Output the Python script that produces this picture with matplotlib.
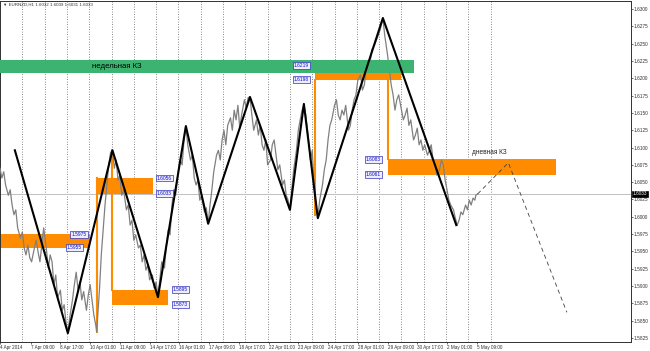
import matplotlib
matplotlib.use('Agg')
import matplotlib.pyplot as plt

# ---------------- data ----------------
title = "EURNZD,H1 1.6032 1.6039 1.6031 1.6033"
last_price = 1.6033

price_bars = [0, 2, 4, 6, 9, 11, 13, 15, 17, 19, 22, 24, 26, 28, 30, 32, 34, 37, 39, 41,
              43, 45, 47, 50, 52, 54, 56, 58, 60, 62, 65, 67, 69, 71, 73,
              75, 78, 80, 82, 84, 86, 88, 90, 93, 95, 97, 99, 101, 103, 104,
              107, 109, 111, 113, 115, 117, 119, 121,
              123, 125, 127, 129, 131, 133, 136, 138, 140, 142, 144, 146, 149, 151, 153, 155,
              157, 159, 161, 164, 166, 168, 170,
              172, 174, 177, 179, 181, 183, 185, 187, 189, 192, 194, 196, 198, 200,
              202, 205, 207, 209, 211, 213, 215, 217, 220, 222, 224,
              226, 228, 230, 233, 235, 237, 239, 241, 243, 245, 248, 250, 252, 254, 256, 258,
              260, 263, 265, 267, 269,
              271, 273, 276, 278, 280, 282, 284, 286, 288, 291, 293, 295, 297, 299, 301, 304,
              306, 308, 310, 312,
              314, 316, 319, 321, 323, 325, 327, 329, 332, 334, 336, 338, 340, 342,
              344, 347, 349, 351, 353, 355, 357, 360, 362, 364, 366, 368, 370, 372, 375, 377,
              379, 381, 383, 385, 388, 390, 392, 394, 396, 398, 400, 403, 405, 407, 409, 411, 412,
              414, 417, 419, 421, 423, 425, 427, 429, 432, 434, 436, 438, 440, 442, 445, 447,
              449, 451, 453, 455, 457, 460, 462, 464, 466, 468, 470, 473, 475, 477, 479, 481,
              483, 485, 488, 490, 492,
              494, 496, 498, 501, 503, 505, 507, 509, 511, 512, 514]
price_vals = [1.6070, 1.6056, 1.6065, 1.6046, 1.6031, 1.6039, 1.6017, 1.6003, 1.6010, 1.5984,
              1.5969, 1.5978, 1.5955, 1.5945, 1.5959, 1.5941, 1.5935, 1.5955, 1.5966, 1.5949,
              1.5935, 1.5959, 1.5984, 1.5952, 1.5926, 1.5945, 1.5935, 1.5902, 1.5916, 1.5883,
              1.5894, 1.5865, 1.5873, 1.5848, 1.5832,
              1.5854, 1.5880, 1.5902, 1.5920, 1.5894, 1.5906, 1.5880, 1.5892, 1.5865, 1.5887,
              1.5902, 1.5880, 1.5858, 1.5844, 1.5834,
              1.5894, 1.5945, 1.5981, 1.6017, 1.6046, 1.6075, 1.6093, 1.6096,
              1.6070, 1.6082, 1.6053, 1.6060, 1.6031, 1.6039, 1.6010, 1.6017, 1.5988, 1.5995,
              1.5966, 1.5974, 1.5955, 1.5959, 1.5935, 1.5945, 1.5923, 1.5930, 1.5909, 1.5916,
              1.5897, 1.5906, 1.5884,
              1.5909, 1.5935, 1.5926, 1.5959, 1.5981, 1.5974, 1.6017, 1.6039, 1.6031, 1.6068,
              1.6082, 1.6075, 1.6111, 1.6131,
              1.6104, 1.6082, 1.6089, 1.6056, 1.6046, 1.6053, 1.6024, 1.6031, 1.6007, 1.6013,
              1.5990,
              1.6017, 1.6039, 1.6065, 1.6089, 1.6096, 1.6082, 1.6111, 1.6125, 1.6104, 1.6132,
              1.6143, 1.6125, 1.6154, 1.6140, 1.6161, 1.6128, 1.6147, 1.6169, 1.6157, 1.6172,
              1.6173,
              1.6147, 1.6125, 1.6140, 1.6118, 1.6132, 1.6104, 1.6096, 1.6111, 1.6075, 1.6082,
              1.6104, 1.6111, 1.6089, 1.6068, 1.6075, 1.6046, 1.6053, 1.6031, 1.6024, 1.6010,
              1.6039, 1.6068, 1.6096, 1.6125, 1.6140, 1.6154, 1.6161, 1.6147, 1.6111, 1.6082,
              1.6096, 1.6046, 1.6017, 1.5998,
              1.6024, 1.6046, 1.6068, 1.6082, 1.6111, 1.6132, 1.6140, 1.6161, 1.6169, 1.6147,
              1.6140, 1.6154, 1.6147, 1.6161, 1.6125, 1.6132, 1.6154, 1.6169, 1.6176, 1.6197,
              1.6205, 1.6183, 1.6190, 1.6212, 1.6226, 1.6219, 1.6241, 1.6248, 1.6255, 1.6262,
              1.6270, 1.6281, 1.6287,
              1.6262, 1.6234, 1.6212, 1.6190, 1.6176, 1.6154, 1.6169, 1.6176, 1.6154, 1.6140,
              1.6147, 1.6157, 1.6132, 1.6140, 1.6111, 1.6118, 1.6128, 1.6104, 1.6111, 1.6096,
              1.6104, 1.6089, 1.6096, 1.6104, 1.6082, 1.6075, 1.6060, 1.6068, 1.6082, 1.6075,
              1.6053, 1.6039, 1.6024, 1.6017, 1.6010, 1.5998, 1.5988,
              1.5995, 1.6007, 1.6003, 1.6017, 1.6010, 1.6024, 1.6017, 1.6027, 1.6024, 1.6031,
              1.6033]

zig_bars = [16, 73, 121, 170, 200, 224, 269, 312, 327, 342, 412, 491]
zig_vals = [1.6096, 1.5832, 1.6096, 1.5884, 1.6131, 1.5990, 1.6173, 1.6010, 1.6163, 1.5998,
            1.6287, 1.5988]

proj_bars = [514, 547, 610]
proj_vals = [1.6033, 1.6078, 1.5862]

# zones: (bar_start, bar_end, price_top, price_bottom)
green_zone = (0, 445, 1.6226, 1.6208)
green_text = "недельная КЗ"
orange_zones = [(0, 97, 1.5975, 1.5955),
                (104, 165, 1.6056, 1.6033),
                (121, 181, 1.5895, 1.5873),
                (339, 431, 1.6219, 1.6198),
                (417, 598, 1.6083, 1.6061)]
orange_text = "дневная КЗ"
# vertical orange legs: (bar, price_top, price_bottom)
orange_legs = [(104, 1.6056, 1.5834), (121, 1.6096, 1.5895),
               (339, 1.6198, 1.6003), (417, 1.6198, 1.6083)]
# price tags: (bar, price, text)
tags = [(85, 1.5975, "1.5975"), (80, 1.5955, "1.5955"),
        (177, 1.6056, "1.6056"), (177, 1.6033, "1.6033"),
        (194, 1.5895, "1.5895"), (194, 1.5873, "1.5873"),
        (324, 1.6219, "1.6219"), (324, 1.6198, "1.6198"),
        (402, 1.6083, "1.6083"), (402, 1.6061, "1.6061")]

y_ticks = [1.5825, 1.5850, 1.5875, 1.5900, 1.5925, 1.5950, 1.5975, 1.6000, 1.6025, 1.6050,
           1.6075, 1.6100, 1.6125, 1.6150, 1.6175, 1.6200, 1.6225, 1.6250, 1.6275, 1.6300]
x_tick_bars = [0, 33, 65, 97, 129, 161, 193, 225, 257, 289, 321, 353, 385, 417, 449, 481, 513]
x_tick_labels = ["4 Apr 2014", "7 Apr 09:00", "8 Apr 17:00", "10 Apr 01:00", "11 Apr 09:00",
                 "14 Apr 17:00", "16 Apr 01:00", "17 Apr 09:00", "18 Apr 17:00", "22 Apr 01:00",
                 "23 Apr 09:00", "24 Apr 17:00", "28 Apr 01:00", "29 Apr 09:00", "30 Apr 17:00",
                 "2 May 01:00", "5 May 09:00"]
day_separators = [24, 48, 72, 96, 120, 144, 168, 192, 216, 240, 264, 288, 312, 336, 360,
                  384, 408, 432, 456, 480, 504, 528]

# ---------------- drawing ----------------
plt.rcParams['font.family'] = ['Liberation Sans', 'DejaVu Sans']
fig = plt.figure(figsize=(6.5, 3.51), dpi=100)
ax = fig.add_axes([0, 9 / 351, 631 / 650, 341 / 351])
ax.set_xlim(0, 679)
ax.set_ylim(1.58192, 1.63116)

ORANGE = '#ff8c00'
GREEN = '#3cb371'

for b in day_separators:
    ax.axvline(b, color='#606060', lw=0.6, ls=(0, (1, 2)), zorder=1)

ax.axhline(last_price, color='#c0c0c0', lw=0.7, zorder=1)

for (b0, b1, pt, pb) in orange_zones:
    ax.fill_between([b0, b1], pb, pt, color=ORANGE, lw=0, zorder=2)
for (b, pt, pb) in orange_legs:
    ax.plot([b, b], [pb, pt], color=ORANGE, lw=1.5, zorder=2)

ax.plot(price_bars, price_vals, color='#808080', lw=0.9, zorder=3)

g0, g1, gt, gb = green_zone
ax.fill_between([g0, g1], gb, gt, color=GREEN, lw=0, zorder=4)
ax.text(126, (gt + gb) / 2, green_text, fontsize=5.6, color='black', ha='center', va='center', zorder=5)
ax.text(526, 1.6093, orange_text, fontsize=4.7, color='#202020', ha='center', va='center', zorder=5)

ax.plot(zig_bars, zig_vals, color='black', lw=1.5, zorder=6)
ax.plot(proj_bars, proj_vals, color='#404040', lw=0.6, ls=(0, (5, 4)), zorder=6)

for (b, p, t) in tags:
    ax.text(b, p, t, fontsize=3.5, color='#1010c0', ha='center', va='center', zorder=7,
            bbox=dict(boxstyle='square,pad=0.2', fc='#eeeeff', ec='#3030c0', lw=0.5))

ax.yaxis.tick_right()
ax.set_yticks(y_ticks)
ax.set_yticklabels(["%.4f" % v for v in y_ticks], fontsize=3.4, color='#303030')
ax.set_xticks(x_tick_bars)
ax.set_xticklabels(x_tick_labels, fontsize=3.3, color='#303030', ha='left')
ax.tick_params(axis='both', length=1.2, width=0.5, pad=0.6, color='#303030')
for s in ax.spines.values():
    s.set_linewidth(0.7)
    s.set_color('#303030')

ax.text(1.003, (last_price - 1.58192) / (1.63116 - 1.58192), "%.4f" % last_price,
        transform=ax.transAxes, fontsize=3.4, color='white', ha='left', va='center',
        bbox=dict(boxstyle='square,pad=0.15', fc='black', ec='black', lw=0.5), clip_on=False)

fig.text(3 / 650, 1 - 5 / 351, "\u25bc " + title, fontsize=3.2, color='#303030', ha='left', va='center')

fig.savefig('out.png', dpi=100)
